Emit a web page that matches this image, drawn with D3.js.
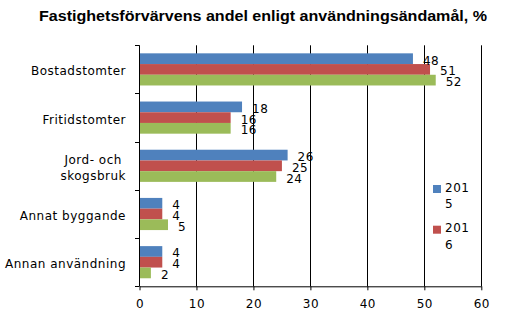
<!DOCTYPE html>
<html><head><meta charset="utf-8">
<script src="https://cdn.jsdelivr.net/npm/d3@7"></script>
<style>body{margin:0;background:#fff}svg{display:block}</style>
</head><body>
<script>
const title = "Fastighetsförvärvens andel enligt användningsändamål, %";
const categories = ["Bostadstomter", "Fritidstomter", "Jord- och\nskogsbruk", "Annat byggande", "Annan användning"];
const seriesNames = ["2015", "2016", "2017"];
const legendLabels = [["201", "5"], ["201", "6"]];
const values2015 = [48, 18, 26, 4, 4];
const values2016 = [51, 16, 25, 4, 4];
const values2017 = [52, 16, 24, 5, 2];
const xTicks = [0, 10, 20, 30, 40, 50, 60];
const colors = ["#4F81BD", "#C0504D", "#9BBB59"];

const W = 511, H = 325;
const series = [values2015, values2016, values2017];
const svg = d3.select("body").append("svg").attr("width", W).attr("height", H);
const font = "'DejaVu Sans', Verdana, sans-serif";
const ls = "0.5px";

const x = d3.scaleLinear().domain([0, 60]).range([139.5, 481.3]);
const y = d3.scaleBand().domain(categories).range([45.3, 286.3]).paddingInner(0.333).paddingOuter(0.1667);
const ys = d3.scaleBand().domain(seriesNames).range([0, y.bandwidth()]);

// title
svg.append("text").attr("x", 263).attr("y", 21).attr("text-anchor", "middle")
  .attr("font-family", "'Liberation Sans', Arial, sans-serif").attr("font-weight", "bold")
  .attr("font-size", 14).attr("textLength", 448).attr("lengthAdjust", "spacingAndGlyphs")
  .text(title);

// gridlines
svg.append("g").selectAll("line").data(xTicks.slice(1)).join("line")
  .attr("x1", d => Math.round(x(d)) + 0.5).attr("x2", d => Math.round(x(d)) + 0.5)
  .attr("y1", 45.3).attr("y2", 286.3).attr("stroke", "#000").attr("stroke-width", 1);

// bars
const g = svg.append("g");
categories.forEach((c, i) => {
  series.forEach((s, j) => {
    g.append("rect").attr("x", x(0)).attr("y", y(c) + ys(seriesNames[j]))
      .attr("width", x(s[i]) - x(0)).attr("height", ys.bandwidth()).attr("fill", colors[j]);
  });
});
categories.forEach((c, i) => {
  series.forEach((s, j) => {
    g.append("text").attr("x", x(s[i]) + 10).attr("y", y(c) + ys(seriesNames[j]) + ys.bandwidth() / 2 + 6)
      .attr("font-family", font).attr("font-size", 12).attr("letter-spacing", ls).attr("fill", "#000").text(s[i]);
  });
});

// x axis
const xAxis = svg.append("g").attr("transform", "translate(0,286.3)")
  .call(d3.axisBottom(x).tickValues(xTicks).tickSize(4).tickSizeOuter(0).tickPadding(9));
xAxis.select(".domain").attr("stroke", "#000");
xAxis.selectAll("line").attr("stroke", "#000");
xAxis.selectAll("text").attr("font-family", font).attr("font-size", 12).attr("letter-spacing", ls).attr("fill", "#000");

// y axis line and ticks at band boundaries
const bounds = d3.range(categories.length + 1).map(i => 45.3 + i * y.step());
svg.append("line").attr("x1", 139.5).attr("x2", 139.5).attr("y1", 45.3).attr("y2", 286.3).attr("stroke", "#000");
svg.append("g").selectAll("line").data(bounds).join("line")
  .attr("x1", 135).attr("x2", 139.5).attr("y1", d => Math.round(d) + 0.5).attr("y2", d => Math.round(d) + 0.5)
  .attr("stroke", "#000");

// category labels
categories.forEach(c => {
  const lines = c.split("\n");
  const cy = y(c) + y.bandwidth() / 2;
  const t = svg.append("text").attr("font-family", font).attr("font-size", 12).attr("letter-spacing", ls).attr("fill", "#000");
  if (lines.length === 1) {
    t.attr("x", 126).attr("y", cy + 6).attr("text-anchor", "end").text(c);
  } else {
    const tmp = lines.map(l => { const e = svg.append("text").attr("font-family", font).attr("font-size", 12).attr("letter-spacing", ls).text(l); const w = e.node().getComputedTextLength(); e.remove(); return w; });
    const mw = d3.max(tmp);
    const cx = 126 - mw / 2;
    t.attr("text-anchor", "middle");
    lines.forEach((l, k) => t.append("tspan").attr("x", cx).attr("y", cy - 2 + k * 16.5).text(l));
  }
});

// legend
legendLabels.forEach((lab, i) => {
  const ly = 185 + i * 40.7;
  svg.append("rect").attr("x", 433).attr("y", ly).attr("width", 8).attr("height", 8).attr("fill", colors[i]);
  lab.forEach((l, k) => svg.append("text").attr("x", 445).attr("y", ly + 6.5 + k * 16.5)
    .attr("font-family", font).attr("font-size", 12).attr("letter-spacing", ls).attr("fill", "#000").text(l));
});
</script>
</body></html>
